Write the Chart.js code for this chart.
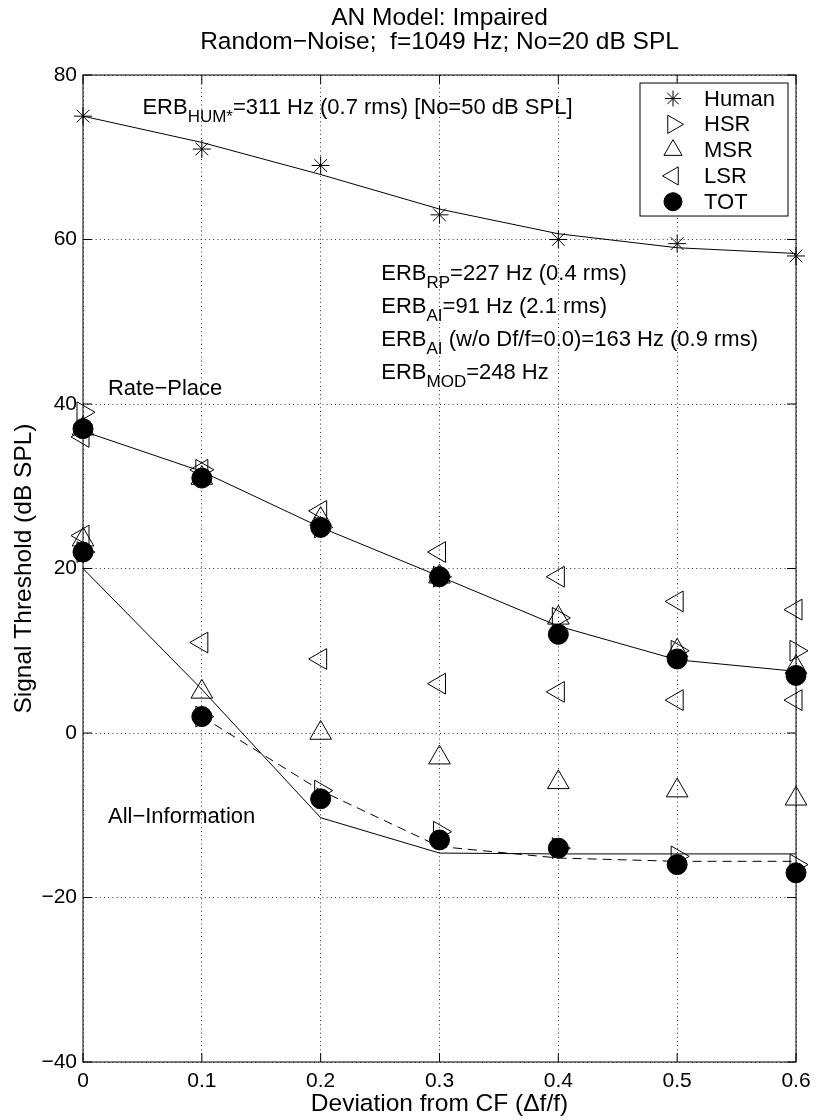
<!DOCTYPE html>
<html>
<head>
<meta charset="utf-8">
<script src="https://cdn.jsdelivr.net/npm/chart.js@4.4.1/dist/chart.umd.min.js"></script>
<style>
  html, body { margin: 0; padding: 0; background: #fff; }
  #wrap { width: 817px; height: 1120px; }
</style>
</head>
<body>
<div id="wrap"><canvas id="c" width="817" height="1120"></canvas></div>
<script>
// Frequency deviation from CF (delta f / f)
const deviation = [0, 0.1, 0.2, 0.3, 0.4, 0.5, 0.6];

// Human thresholds and fitted filter curve
const human    = [75, 71, 69, 63, 60, 59.5, 58];
const humanFit = [75, 71.8, 67.9, 63.7, 60.7, 59.0, 58.3];

// Rate-place thresholds per fibre group
const hsrRP = [39, 32, 25, 19, 14, 10, 10];
const msrRP = [37, 31, 26, 19, 14, 10, 8];
const lsrRP = [36, 32, 27, 22, 19, 16, 15];
const totRP = [37, 31, 25, 19, 12, 9, 7];
const rpFit = [36.7, 31.8, 25.0, 19.05, 13.0, 8.9, 7.5];

// All-information thresholds per fibre group
const hsrAI = [22, 2, -7, -12, -14, -15, -16];
const msrAI = [23.5, 5, 0, -3, -6, -7, -8];
const lsrAI = [24, 11, 9, 6, 5, 4, 4];
const totAI = [22, 2, -8, -13, -14, -16, -17];
const aiFit       = [20, 5.3, -10.3, -14.6, -14.7, -14.7, -14.7];
const aiFitNoZero = [null, 2, -7, -13.8, -15.2, -15.6, -15.6];

// Axis ticks
const xTicks = [0, 0.1, 0.2, 0.3, 0.4, 0.5, 0.6];
const xTickLabels = ['0', '0.1', '0.2', '0.3', '0.4', '0.5', '0.6'];
const yTicks = [-40, -20, 0, 20, 40, 60, 80];
const yTickLabels = ['\u221240', '\u221220', '0', '20', '40', '60', '80'];

const FONT = 'Liberation Sans, Arial, Helvetica, sans-serif';

function pts(xs, ys) {
  const out = [];
  xs.forEach((x, i) => { if (ys[i] !== null && ys[i] !== undefined) out.push({ x: x, y: ys[i] }); });
  return out;
}

const markerBase = { showLine: false, borderColor: '#000', borderWidth: 1, clip: false,
                     backgroundColor: 'rgba(0,0,0,0)', pointHoverRadius: 0 };
const lineBase = { showLine: true, borderColor: '#000', borderWidth: 1, pointRadius: 0,
                   pointHoverRadius: 0, fill: false, tension: 0, clip: false };

const datasets = [
  Object.assign({}, markerBase, { label: 'TOT', order: 0, data: pts(deviation, totRP).concat(pts(deviation, totAI)),
    pointStyle: 'circle', pointRadius: 10, pointBackgroundColor: '#000', pointBorderColor: '#000', legend: true }),
  Object.assign({}, markerBase, { label: 'Human', order: 5, data: pts(deviation, human),
    pointStyle: 'star', pointRadius: 9, pointBorderColor: '#000', legend: true }),
  Object.assign({}, markerBase, { label: 'HSR', order: 4, data: pts(deviation, hsrRP).concat(pts(deviation, hsrAI)),
    pointStyle: 'triangle', pointRotation: 90, pointRadius: 12, pointBorderColor: '#000', legend: true }),
  Object.assign({}, markerBase, { label: 'MSR', order: 3, data: pts(deviation, msrRP).concat(pts(deviation, msrAI)),
    pointStyle: 'triangle', pointRotation: 0, pointRadius: 12.5, pointBorderColor: '#000', legend: true }),
  Object.assign({}, markerBase, { label: 'LSR', order: 2, data: pts(deviation, lsrRP).concat(pts(deviation, lsrAI)),
    pointStyle: 'triangle', pointRotation: -90, pointRadius: 12, pointBorderColor: '#000', legend: true }),
  Object.assign({}, lineBase, { label: 'Human fit', order: 6, data: pts(deviation, humanFit) }),
  Object.assign({}, lineBase, { label: 'Rate-place fit', order: 6, data: pts(deviation, rpFit) }),
  Object.assign({}, lineBase, { label: 'All-information fit', order: 6, data: pts(deviation, aiFit) }),
  Object.assign({}, lineBase, { label: 'All-information fit (no 0)', order: 6, data: pts(deviation, aiFitNoZero),
    borderDash: [9, 6] })
];

const legendOrder = ['Human', 'HSR', 'MSR', 'LSR', 'TOT'];

// Text annotations: [x, y] in data units, followed by runs of normal / subscript text
const annotations = [
  { at: [0.050, 75.3], runs: [['ERB', 0], ['HUM*', 1], ['=311 Hz (0.7 rms) [No=50 dB SPL]', 0]] },
  { at: [0.251, 55.1], runs: [['ERB', 0], ['RP', 1], ['=227 Hz (0.4 rms)', 0]] },
  { at: [0.251, 51.1], runs: [['ERB', 0], ['AI', 1], ['=91 Hz (2.1 rms)', 0]] },
  { at: [0.251, 47.1], runs: [['ERB', 0], ['AI', 1], [' (w/o Df/f=0.0)=163 Hz (0.9 rms)', 0]] },
  { at: [0.251, 43.1], runs: [['ERB', 0], ['MOD', 1], ['=248 Hz', 0]] },
  { at: [0.021, 41.1], runs: [['Rate\u2212Place', 0]] },
  { at: [0.021, -10.9], runs: [['All\u2212Information', 0]] }
];

const framePlugin = {
  id: 'frame',
  beforeDatasetsDraw(chart) {
    const { ctx, chartArea: a, scales } = chart;
    const L = 9;
    ctx.save();
    ctx.strokeStyle = '#000';
    ctx.lineWidth = 1;
    ctx.setLineDash([]);
    ctx.strokeRect(a.left, a.top, a.right - a.left, a.bottom - a.top);
    ctx.beginPath();
    scales.x.ticks.forEach(t => {
      const px = scales.x.getPixelForValue(t.value);
      ctx.moveTo(px, a.bottom); ctx.lineTo(px, a.bottom - L);
      ctx.moveTo(px, a.top); ctx.lineTo(px, a.top + L);
    });
    scales.y.ticks.forEach(t => {
      const py = scales.y.getPixelForValue(t.value);
      ctx.moveTo(a.left, py); ctx.lineTo(a.left + L, py);
      ctx.moveTo(a.right, py); ctx.lineTo(a.right - L, py);
    });
    ctx.stroke();
    ctx.restore();
  }
};

const textPlugin = {
  id: 'notes',
  afterDatasetsDraw(chart) {
    const { ctx, scales } = chart;
    ctx.save();
    ctx.fillStyle = '#000';
    ctx.textBaseline = 'alphabetic';
    ctx.textAlign = 'left';
    annotations.forEach(a => {
      let x = scales.x.getPixelForValue(a.at[0]);
      const y = scales.y.getPixelForValue(a.at[1]);
      a.runs.forEach(([txt, sub]) => {
        ctx.font = (sub ? '17px ' : '22px ') + FONT;
        ctx.fillText(txt, x, sub ? y + 8 : y);
        x += ctx.measureText(txt).width;
      });
    });
    ctx.restore();
  }
};

const legendPlugin = {
  id: 'boxLegend',
  afterDatasetsDraw(chart) {
    const { ctx, chartArea: a } = chart;
    const boxW = 148, boxH = 133;
    const bx = a.right - 8 - boxW, by = a.top + 8;
    ctx.save();
    ctx.fillStyle = '#fff';
    ctx.fillRect(bx, by, boxW, boxH);
    ctx.strokeStyle = '#000';
    ctx.lineWidth = 1;
    ctx.strokeRect(bx, by, boxW, boxH);
    legendOrder.forEach((name, i) => {
      const ds = chart.data.datasets.find(d => d.label === name);
      const cy = by + 15.5 + i * 25.8;
      const cx = bx + 33;
      ctx.strokeStyle = '#000';
      ctx.fillStyle = ds.pointBackgroundColor || 'rgba(0,0,0,0)';
      ctx.lineWidth = 1;
      Chart.helpers.drawPoint(ctx, {
        pointStyle: ds.pointStyle,
        rotation: ds.pointRotation || 0,
        radius: ds.pointStyle === 'circle' ? 9 : (ds.pointStyle === 'star' ? 8 : 10.5),
        borderWidth: 1
      }, cx, cy);
      ctx.fillStyle = '#000';
      ctx.font = '22px ' + FONT;
      ctx.textBaseline = 'middle';
      ctx.textAlign = 'left';
      ctx.fillText(name, bx + 64, cy + 1);
    });
    ctx.restore();
  }
};

new Chart(document.getElementById('c'), {
  type: 'scatter',
  data: { datasets: datasets },
  plugins: [framePlugin, textPlugin, legendPlugin],
  options: {
    responsive: false,
    animation: false,
    events: [],
    layout: { padding: { left: 0, right: 18, top: 0, bottom: 0 } },
    plugins: {
      legend: { display: false },
      tooltip: { enabled: false },
      title: {
        display: true,
        fullSize: false,
        text: ['AN Model: Impaired', 'Random\u2212Noise;  f=1049 Hz; No=20 dB SPL'],
        color: '#000',
        font: { family: FONT, size: 24.5, weight: 'normal', lineHeight: 0.98 },
        padding: { top: 6.5, bottom: 20.5 }
      }
    },
    scales: {
      x: {
        type: 'linear',
        min: 0, max: 0.6,
        afterBuildTicks(s) { s.ticks = xTicks.map(v => ({ value: v })); },
        afterFit(s) { s.height = 58; },
        ticks: {
          color: '#000',
          font: { family: FONT, size: 21 },
          padding: 6.4,
          maxRotation: 0,
          callback(v, i) { return xTickLabels[i]; }
        },
        grid: { color: '#333', lineWidth: 1, drawTicks: false },
        border: { display: false, dash: [1, 3.2] },
        title: {
          display: true,
          text: 'Deviation from CF (\u0394f/f)',
          color: '#000',
          font: { family: FONT, size: 24.5, weight: 'normal', lineHeight: 1.2 },
          padding: { top: 0, bottom: 1.3 }
        }
      },
      y: {
        type: 'linear',
        min: -40, max: 80,
        afterBuildTicks(s) { s.ticks = yTicks.map(v => ({ value: v })); },
        afterFit(s) { s.width = 83; },
        ticks: {
          color: '#000',
          font: { family: FONT, size: 21 },
          padding: 6,
          callback(v, i) { return yTickLabels[i]; }
        },
        grid: { color: '#333', lineWidth: 1, drawTicks: false },
        border: { display: false, dash: [1, 3.2] },
        title: {
          display: true,
          text: 'Signal Threshold (dB SPL)',
          color: '#000',
          font: { family: FONT, size: 24.5, weight: 'normal', lineHeight: 1.2 },
          padding: { top: 9.3, bottom: 0 }
        }
      }
    }
  }
});
</script>
</body>
</html>
